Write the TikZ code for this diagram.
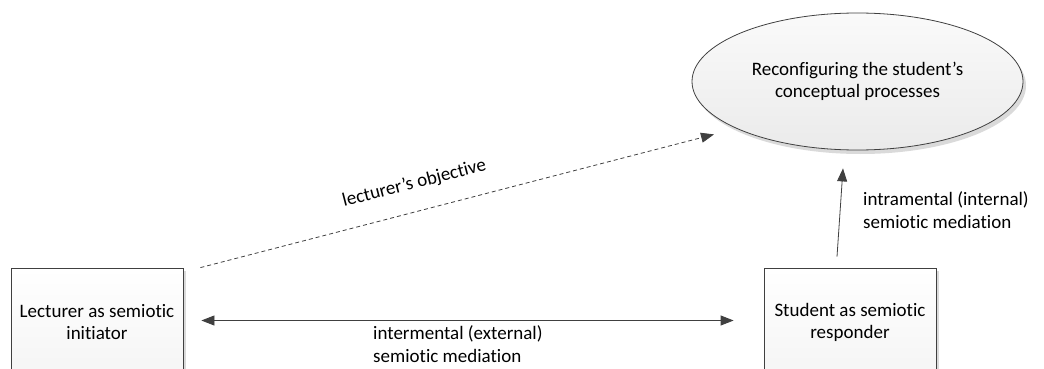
\documentclass[tikz,border=0pt]{standalone}
\usepackage{fontspec}
\setmainfont{Carlito}[Ligatures={NoCommon}]
\usetikzlibrary{arrows.meta,shapes.geometric,shadows,calc}

\definecolor{edgegray}{HTML}{404040}
\definecolor{shadegray}{HTML}{DADADA}

\tikzset{
  agent/.style={draw=edgegray, line width=0.8pt, rectangle,
    minimum width=172pt, minimum height=108pt, inner sep=0pt,
    align=center, top color=white, bottom color=black!4,
    general shadow={fill=shadegray, shadow xshift=3pt, shadow yshift=-3pt}},
  goalshape/.style={draw=edgegray, line width=0.8pt, ellipse,
    minimum width=331pt, minimum height=137pt, inner sep=0pt,
    align=center, top color=black!2, bottom color=black!8,
    general shadow={fill=shadegray, shadow xshift=3pt, shadow yshift=-4pt}},
  link/.style={draw=edgegray, line width=0.8pt,
    arrows={-Triangle[length=13pt,width=10pt]}},
  twoway/.style={draw=edgegray, line width=0.8pt,
    arrows={Triangle[length=13pt,width=10pt]-Triangle[length=13pt,width=10pt]}},
  note/.style={align=left, inner sep=0pt, font=\fontsize{19}{23}\selectfont},
}

\begin{document}
\begin{tikzpicture}[x=1pt, y=-1pt, font=\fontsize{19}{22}\selectfont]
\useasboundingbox (0,0) rectangle (1044,369);

% participants and the goal
\node[agent] (lect) at (97,322) {Lecturer as semiotic\\initiator};
\node[agent] (stud) at (850,322) {Student as semiotic\\responder};
\node[goalshape] (goal) at (857.5,81.5) {Reconfiguring the student’s\\conceptual processes};

% free ends of the connectors
\coordinate (objS) at ($(lect.north east)+(17,0)$);
\coordinate (objE) at ($(goal.south)+(-143.5,-16)$);
\coordinate (interL) at ($(lect.east)+(18,-1.5)$);
\coordinate (interR) at ($(stud.west)+(-30,-1.5)$);
\coordinate (intraS) at ($(stud.north)+(-13,-11)$);
\coordinate (intraE) at ($(goal.south)+(-14.5,18)$);

% lecturer's objective
\draw[link, dashed, dash pattern=on 4pt off 3pt] (objS) -- (objE)
  node[pos=0.43, sloped, above=19pt, inner sep=0pt] {lecturer’s objective};

% intermental mediation (anchored on the baseline of the last line)
\draw[twoway] (interL) -- (interR);
\node[note, anchor=base west] (interLbl) at (373,362)
  {intermental (external)\\semiotic mediation};

% intramental mediation
\draw[link] (intraS) -- (intraE);
\node[note, anchor=base west] (intraLbl) at (863,228)
  {intramental (internal)\\semiotic mediation};
\end{tikzpicture}
\end{document}
